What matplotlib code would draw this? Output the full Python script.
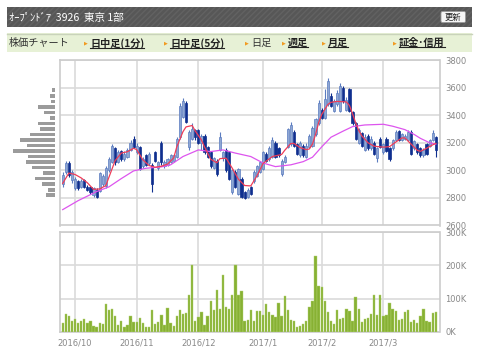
import matplotlib
matplotlib.use("Agg")
import matplotlib.pyplot as plt
from matplotlib.patches import Rectangle, FancyBboxPatch
import numpy as np
import pandas as pd

plt.rcParams['font.family'] = ['Noto Sans CJK JP', 'DejaVu Sans']

# ---------------------------------------------------------------------
# Data
# ---------------------------------------------------------------------

holidays = ['2016-10-10', '2016-11-03', '2016-11-23', '2016-12-23',
            '2017-01-02', '2017-01-03', '2017-01-09', '2017-03-20']
days = pd.bdate_range('2016-09-27', '2017-03-27')
days = days[~days.isin(pd.to_datetime(holidays))]

opens = [2900, 2985, 3055, 2930, 2870, 2920, 2880, 2930, 2880, 2880,
         2820, 2860, 2850, 2900, 2890, 3000, 3060, 3160, 3060, 3140,
         3080, 3100, 3150, 3230, 3130, 3170, 3030, 3110, 3050, 3040,
         3130, 3020, 3200, 3030, 3040, 3060, 3070, 3100, 3240, 3390,
         3490, 3170, 3230, 3290, 3290, 3200, 3250, 3170, 3130, 3020,
         3070, 3150, 3090, 3150, 3130, 2840, 2990, 2830, 2940, 2840,
         2810, 2880, 2920, 2960, 2990, 3010, 3120, 3080, 3100, 3200,
         3160, 2970, 3060, 3170, 3190, 3280, 3190, 3110, 3180, 3100,
         3170, 3180, 3260, 3340, 3440, 3380, 3480, 3540, 3430, 3480,
         3430, 3600, 3440, 3590, 3420, 3340, 3200, 3270, 3150, 3250,
         3160, 3200, 3090, 3230, 3130, 3230, 3160, 3160, 3220, 3285,
         3220, 3230, 3220, 3280, 3160, 3190, 3160, 3110, 3190, 3180,
         3220, 3240]
highs = [2985, 3070, 3070, 3000, 2950, 2930, 2935, 2940, 2895, 2890,
         2880, 2870, 2990, 2975, 3030, 3095, 3190, 3170, 3150, 3150,
         3140, 3160, 3220, 3250, 3200, 3180, 3095, 3120, 3130, 3050,
         3140, 3070, 3210, 3075, 3090, 3120, 3120, 3240, 3485, 3525,
         3505, 3290, 3340, 3300, 3300, 3260, 3260, 3180, 3140, 3100,
         3080, 3280, 3140, 3160, 3140, 3010, 3000, 3020, 2950, 2850,
         2870, 2890, 3000, 3040, 3070, 3140, 3130, 3175, 3240, 3210,
         3170, 3080, 3110, 3310, 3350, 3290, 3200, 3215, 3190, 3195,
         3260, 3320, 3380, 3510, 3450, 3590, 3670, 3560, 3520, 3580,
         3630, 3610, 3530, 3600, 3430, 3350, 3310, 3280, 3260, 3260,
         3250, 3210, 3170, 3240, 3200, 3240, 3170, 3230, 3290, 3290,
         3270, 3260, 3290, 3290, 3220, 3200, 3170, 3160, 3200, 3230,
         3295, 3250]
lows = [2880, 2975, 2950, 2910, 2860, 2860, 2870, 2870, 2850, 2830,
        2810, 2800, 2840, 2890, 2870, 2985, 3050, 3040, 3050, 3070,
        3070, 3090, 3140, 3160, 3120, 3000, 3020, 3030, 3040, 2845,
        3060, 3000, 3040, 3020, 3030, 3050, 3060, 3090, 3230, 3380,
        3340, 3150, 3220, 3220, 3190, 3150, 3120, 3090, 3020, 3010,
        2960, 3140, 3070, 2990, 2930, 2830, 2870, 2820, 2800, 2790,
        2800, 2820, 2910, 2950, 2980, 3000, 3060, 3070, 3090, 3090,
        3100, 2960, 3050, 3160, 3180, 3170, 3110, 3100, 3100, 3090,
        3160, 3170, 3250, 3330, 3370, 3370, 3470, 3460, 3420, 3470,
        3420, 3490, 3430, 3420, 3330, 3220, 3190, 3170, 3140, 3150,
        3150, 3110, 3060, 3160, 3120, 3130, 3070, 3150, 3210, 3210,
        3210, 3220, 3210, 3110, 3150, 3120, 3100, 3100, 3110, 3170,
        3210, 3100]
closes = [2965, 3050, 2965, 2990, 2940, 2870, 2920, 2880, 2860, 2840,
          2870, 2810, 2980, 2960, 3020, 3080, 3175, 3060, 3130, 3080,
          3120, 3150, 3200, 3170, 3180, 3010, 3085, 3040, 3120, 2900,
          3070, 3060, 3060, 3060, 3080, 3110, 3110, 3230, 3470, 3500,
          3350, 3280, 3300, 3240, 3200, 3250, 3130, 3100, 3030, 3090,
          2970, 3240, 3130, 3000, 2940, 3000, 2880, 3010, 2810, 2800,
          2860, 2830, 2990, 3030, 3060, 3130, 3070, 3160, 3220, 3100,
          3110, 3070, 3100, 3300, 3330, 3180, 3120, 3200, 3110, 3180,
          3250, 3310, 3370, 3490, 3380, 3520, 3650, 3470, 3500, 3560,
          3610, 3500, 3510, 3430, 3340, 3230, 3290, 3180, 3240, 3160,
          3230, 3120, 3160, 3170, 3190, 3140, 3080, 3220, 3280, 3220,
          3260, 3250, 3280, 3120, 3210, 3130, 3110, 3150, 3120, 3220,
          3270, 3150]

volumes_k = [27, 52, 48, 31, 39, 25, 33, 39, 27, 31,
             17, 13, 27, 23, 83, 64, 68, 48, 21, 33,
             15, 21, 46, 29, 29, 41, 25, 15, 15, 66,
             23, 29, 50, 21, 72, 25, 17, 46, 64, 54,
             56, 112, 200, 31, 44, 58, 21, 48, 92, 66,
             125, 68, 170, 74, 68, 112, 200, 112, 122, 33,
             35, 67, 31, 62, 62, 50, 83, 60, 50, 44,
             87, 48, 108, 64, 35, 31, 15, 17, 23, 31,
             76, 92, 227, 138, 134, 92, 60, 33, 23, 64,
             39, 41, 70, 62, 33, 104, 70, 29, 39, 41,
             52, 110, 50, 112, 48, 50, 88, 68, 62, 35,
             39, 58, 64, 29, 35, 25, 48, 68, 31, 29,
             56, 60]

# short moving average (red), read as (trading-day, price) points
ma_short_day = [0, 2, 4, 6, 8, 10, 12, 14, 16, 17, 19, 21, 23, 24, 26, 28,
                30, 32, 34, 36, 37, 39, 40, 42, 43, 45, 46, 48, 50, 51, 53,
                55, 57, 59, 61, 63, 65, 68, 71, 72, 74, 75, 77, 79, 80, 81,
                82, 83, 84, 86, 87, 89, 92, 93, 94, 95, 96, 97, 99, 101,
                104, 106, 108, 110, 111, 113, 115, 116, 118, 120, 121]
ma_short_val = [2905, 2980, 2970, 2945, 2910, 2862, 2865, 2890, 3010, 3070,
                3125, 3135, 3160, 3150, 3076, 3035, 3022, 3030, 3045, 3090,
                3170, 3280, 3315, 3325, 3285, 3220, 3170, 3080, 3055, 3085,
                3088, 3015, 2935, 2890, 2887, 2960, 3050, 3100, 3115, 3145,
                3195, 3195, 3165, 3150, 3155, 3190, 3260, 3345, 3405, 3478,
                3493, 3500, 3496, 3470, 3410, 3345, 3290, 3250, 3200, 3175,
                3168, 3172, 3205, 3235, 3235, 3190, 3145, 3138, 3160, 3185,
                3195]

# long moving average (magenta)
ma_long_day = [0, 5, 11, 15, 19, 23, 27, 32, 35, 39, 44, 48, 52, 56, 61, 65,
               69, 74, 78, 81, 84, 87, 91, 94, 98, 104, 107, 111, 114, 116,
               119, 121]
ma_long_val = [2715, 2780, 2846, 2880, 2940, 2996, 3015, 3025, 3040, 3100,
               3148, 3136, 3148, 3125, 3100, 3053, 3027, 3040, 3063, 3095,
               3170, 3240, 3285, 3317, 3329, 3334, 3320, 3295, 3260, 3232,
               3200, 3190]

# volume-by-price histogram, price bands from 2820 to 3580
vbp_price = list(range(2820, 3581, 40))
vbp_volume = [9, 7.3, 12.7, 20, 12.3, 23.3, 29, 26.7, 41.7, 27.7,
              35, 25, 14.7, 17.3, 5, 10.7, 16.7, 4.3, 5, 3.3]

price_ticks = [2600, 2800, 3000, 3200, 3400, 3600, 3800]
volume_ticks = [0, 100000, 200000, 300000]
volume_tick_labels = ['0K', '100K', '200K', '300K']

# ---------------------------------------------------------------------
# Layout helpers (figure in pixels)
# ---------------------------------------------------------------------

W, H = 480, 359


def fig_rect(x0, y0, x1, y1):
    return [x0 / W, 1 - y1 / H, (x1 - x0) / W, (y1 - y0) / H]


GRID = '#dadada'
SPINE = '#cccccc'
LABEL = '#888888'
UP_FACE, UP_EDGE = '#8fa7d3', '#5b7cc0'
DOWN = '#0f2f8f'

fig = plt.figure(figsize=(4.8, 3.59), dpi=100)

# ---------------------------------------------------------------------
# Price panel
# ---------------------------------------------------------------------
x = np.arange(len(closes))
o = np.array(opens)
c = np.array(closes)
up = c >= o

ax_p = fig.add_axes(fig_rect(60, 60, 439.5, 225.5))
ax_p.set_axisbelow(True)
wick_colors = [UP_EDGE if u else DOWN for u in up]
ax_p.vlines(x, lows, highs, colors=wick_colors, linewidth=0.8, zorder=2)
ax_p.bar(x[up], np.abs(c - o)[up], bottom=np.minimum(o, c)[up], width=0.7,
         color=UP_FACE, edgecolor=UP_EDGE, linewidth=0.5, zorder=3)
ax_p.bar(x[~up], np.abs(c - o)[~up], bottom=np.minimum(o, c)[~up], width=0.7,
         color=DOWN, edgecolor=DOWN, linewidth=0.5, zorder=3)
ax_p.plot(ma_long_day, ma_long_val, color='#dd55ee', linewidth=0.9, zorder=4)
ax_p.plot(ma_short_day, ma_short_val, color='#ee3d58', linewidth=0.9, zorder=5)

month_idx = [i for i in range(1, len(days)) if days[i].month != days[i - 1].month]
month_lbl = [f"{days[i].year}/{days[i].month}" for i in month_idx]

xlim = (-0.87, 122.2)
ax_p.set_xlim(*xlim)
ax_p.set_ylim(2600, 3800)
ax_p.set_yticks(price_ticks)
ax_p.set_xticks(month_idx)
ax_p.set_xticklabels([])
ax_p.yaxis.tick_right()
ax_p.tick_params(axis='both', length=0, labelsize=6, labelcolor=LABEL, pad=4)
ax_p.grid(True, color=GRID, linewidth=1.2)
for s in ax_p.spines.values():
    s.set_color(SPINE)
    s.set_linewidth(1.2)

# ---------------------------------------------------------------------
# Volume panel
# ---------------------------------------------------------------------
vol = np.array(volumes_k) * 1000
ax_v = fig.add_axes(fig_rect(60, 232.3, 439.5, 331.7))
ax_v.set_axisbelow(True)
ax_v.bar(x, vol, width=0.75, color='#87b133', edgecolor='#b3d374',
         linewidth=0.3, zorder=3)
ax_v.set_xlim(*xlim)
ax_v.set_ylim(0, 300000)
ax_v.set_yticks(volume_ticks)
ax_v.set_yticklabels(volume_tick_labels)
ax_v.set_xticks(month_idx)
ax_v.set_xticklabels(month_lbl)
ax_v.yaxis.tick_right()
ax_v.tick_params(axis='both', length=0, labelsize=6, labelcolor=LABEL)
ax_v.tick_params(axis='y', pad=4)
ax_v.tick_params(axis='x', pad=5)
ax_v.grid(True, color=GRID, linewidth=1.2)
for s in ax_v.spines.values():
    s.set_color(SPINE)
    s.set_linewidth(1.2)
for t in ax_v.get_xticklabels() + ax_v.get_yticklabels() + ax_p.get_yticklabels():
    t.set_family('DejaVu Sans')

# ---------------------------------------------------------------------
# Volume-by-price histogram (left of the price panel)
# ---------------------------------------------------------------------
ax_h = fig.add_axes(fig_rect(0, 60, 55, 225.5))
ax_h.barh(vbp_price, [-v for v in vbp_volume], height=27, color='#9b9b9b', linewidth=0)
ax_h.set_xlim(-55, 0)
ax_h.set_ylim(2600, 3800)
ax_h.axis('off')

# ---------------------------------------------------------------------
# Header bars (overlay in pixel coordinates)
# ---------------------------------------------------------------------
ax_o = fig.add_axes([0, 0, 1, 1], zorder=10)
ax_o.set_xlim(0, W)
ax_o.set_ylim(H, 0)
ax_o.axis('off')

ax_o.add_patch(Rectangle((7, 7), 465, 20, facecolor='#575757', edgecolor='#626262',
                         hatch='//////', linewidth=0))
ax_o.text(9, 17.5, 'ｵｰﾌﾟﾝﾄﾞｱ  3926  東京 1部', color='white', fontsize=7.6, va='center')
ax_o.add_patch(FancyBboxPatch((441, 11.5), 24.5, 11, boxstyle='round,pad=0,rounding_size=1.5',
                              facecolor='#f6f6f6', edgecolor='#9a9a9a', linewidth=0.6))
ax_o.text(453.2, 17.2, '更新', color='#222222', fontsize=6, ha='center', va='center')

ax_o.add_patch(Rectangle((7, 33), 465, 19, facecolor='#e7f1d6', linewidth=0))
ax_o.plot([7, 472], [33.5, 33.5], color='#c9d3bb', linewidth=1)
ax_o.text(9, 43, '株価チャート', color='#333333', fontsize=7.3, va='center')

links = [('日中足(1分)', 90, True), ('日中足(5分)', 170, True), ('日足', 251, False),
         ('週足', 288, True), ('月足', 328, True), ('証金･信用', 399, True)]
underlined = []
for label, lx, bold in links:
    ax_o.text(lx - 6.5, 43, '▶', color='#f29a1f', fontsize=3.5, va='center',
              family='DejaVu Sans')
    t = ax_o.text(lx, 43, label, color='#222222' if bold else '#333333', fontsize=7.3,
                  va='center', fontweight='bold' if bold else 'normal')
    if bold:
        underlined.append(t)

fig.canvas.draw()
inv = ax_o.transData.inverted()
for t in underlined:
    bb = t.get_window_extent()
    (x0, y0), (x1, _) = inv.transform([(bb.x0, bb.y0), (bb.x1, bb.y1)])
    ax_o.plot([x0, x1], [y0 - 1.0, y0 - 1.0], color='#222222', linewidth=0.8)

fig.savefig('out.png', dpi=100)
